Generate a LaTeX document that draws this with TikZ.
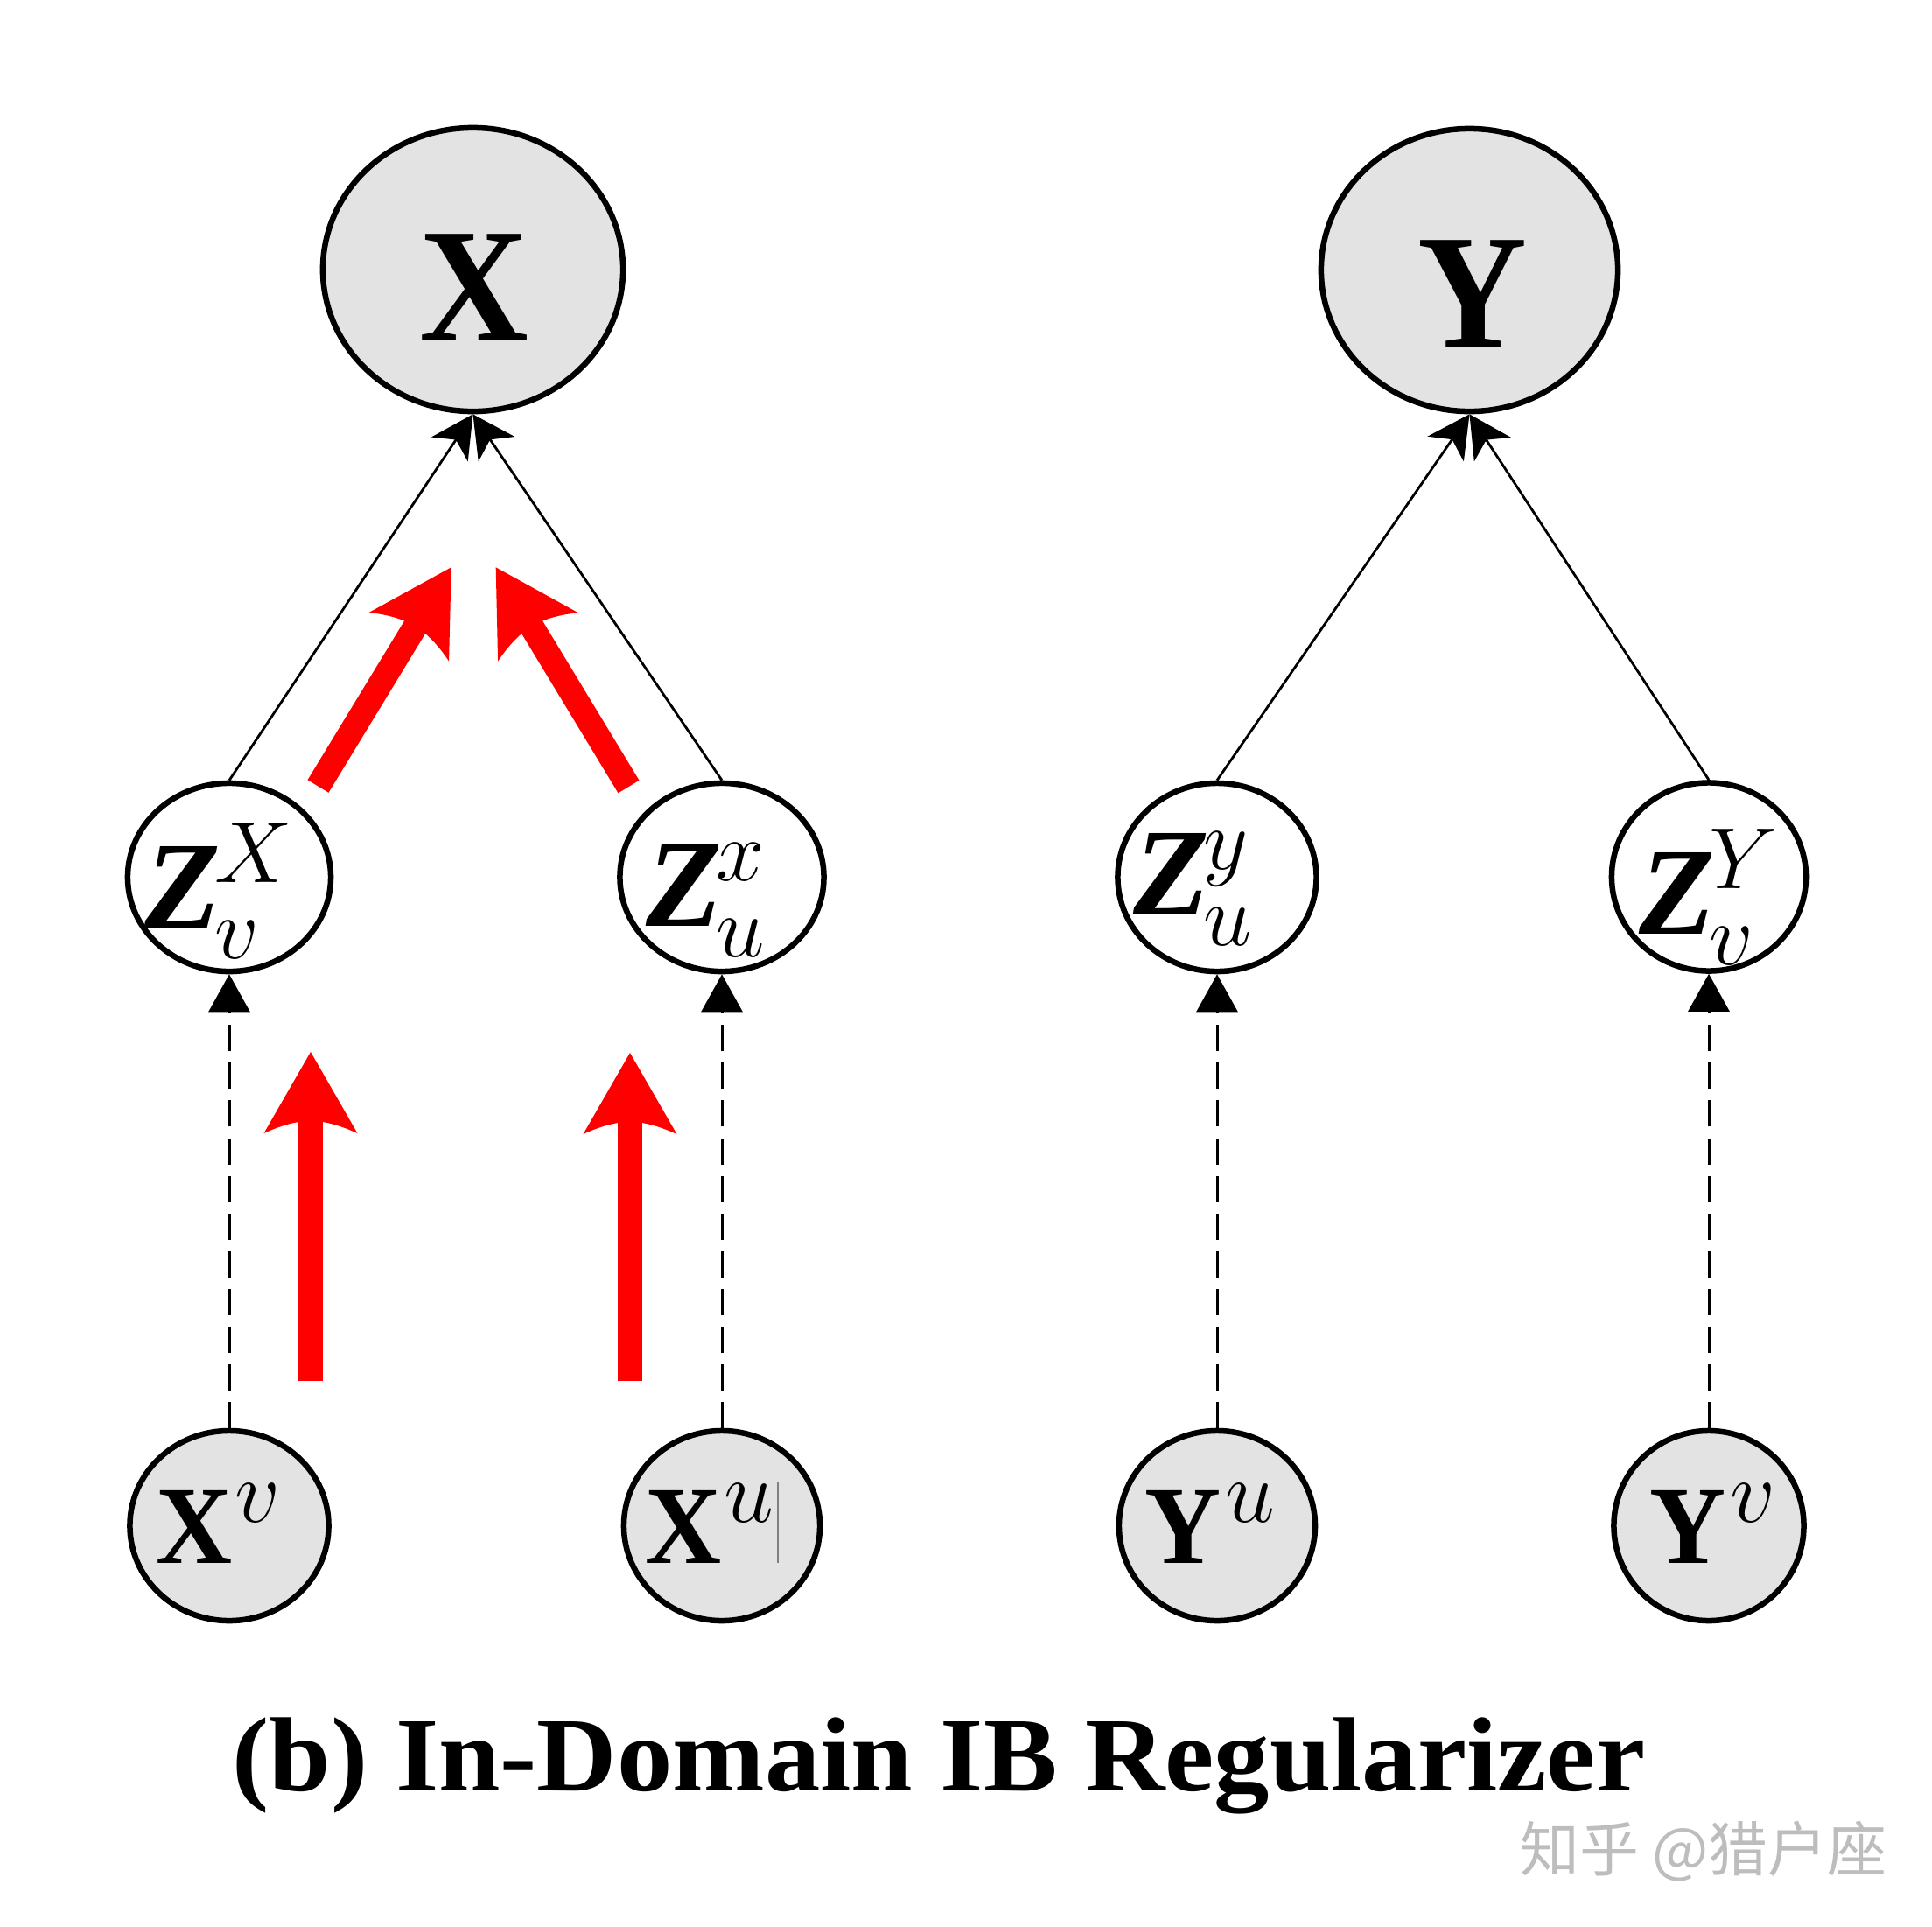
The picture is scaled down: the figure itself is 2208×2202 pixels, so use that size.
\RequirePackage{fix-cm}
\documentclass[tikz,border=0pt]{standalone}
\usepackage{amsmath}
\usepackage{fontspec}
\setmainfont{Liberation Serif}
\newfontfamily\cjk{Noto Sans CJK SC}
\usepackage{graphicx}
\usetikzlibrary{shapes.geometric,arrows.meta,calc}
\definecolor{nodegray}{HTML}{E3E3E3}
\definecolor{wmgray}{HTML}{BDBDBD}
\tikzset{
  bignode/.style={ellipse, draw, line width=0.065cm, fill=nodegray, minimum width=3.43cm, minimum height=3.24cm, inner sep=0pt},
  znode/.style={ellipse, draw, line width=0.065cm, fill=white, minimum width=2.30cm, minimum height=2.15cm, inner sep=0pt},
  obsnode/.style={ellipse, draw, line width=0.065cm, fill=nodegray, minimum width=2.24cm, minimum height=2.17cm, inner sep=0pt},
  biglabel/.style={anchor=base, inner sep=0pt, font=\fontsize{52.9pt}{55pt}\selectfont\bfseries},
  zlabel/.style={anchor=base west, inner sep=0pt, font=\fontsize{40.4pt}{42pt}\selectfont},
  obslabel/.style={anchor=base west, inner sep=0pt, font=\fontsize{36.1pt}{38pt}\selectfont\bfseries},
  toparrow/.style={line width=0.028cm, -{Stealth[length=0.48cm, width=0.50cm, inset=0.13cm]}},
  dasharrow/.style={line width=0.03cm, dash pattern=on 0.30cm off 0.13cm, -{Triangle[length=0.43cm, width=0.47cm]}},
  redshaft/.style={draw=red, line width=0.28cm},
  redhead/.style={fill=red, draw=none},
}
\newcommand{\zlab}[3]{{\bfseries\itshape Z}\kern-2pt$^{#2}_{#3}$}
\newcommand{\olab}[3]{\scalebox{0.95}[1]{#1}\kern#3\raisebox{13.2pt}{\fontsize{29pt}{30pt}\selectfont$#2$}}
\newcommand{\redarrow}[3]{%
  \coordinate (#1S) at #2;
  \coordinate (#1T) at #3;
  \coordinate (#1b) at ($(#1T)!0.93cm!(#1S)$);
  \coordinate (#1j) at ($(#1T)!0.80cm!(#1S)$);
  \coordinate (#1k) at ($(#1T)!0.78cm!(#1S)$);
  \coordinate (#1a1) at ($(#1T)!0.863cm!(#1S)$);
  \coordinate (#1a2) at ($(#1T)!0.82cm!(#1S)$);
  \coordinate (#1w1) at ($(#1b)!0.535cm!90:(#1T)$);
  \coordinate (#1w2) at ($(#1b)!0.535cm!-90:(#1T)$);
  \coordinate (#1j1) at ($(#1j)!0.14cm!90:(#1T)$);
  \coordinate (#1j2) at ($(#1j)!0.14cm!-90:(#1T)$);
  \coordinate (#1p1) at ($(#1a1)!0.392cm!90:(#1T)$);
  \coordinate (#1q1) at ($(#1a2)!0.26cm!90:(#1T)$);
  \coordinate (#1p2) at ($(#1a1)!0.392cm!-90:(#1T)$);
  \coordinate (#1q2) at ($(#1a2)!0.26cm!-90:(#1T)$);
  \draw[redshaft] (#1S) -- (#1k);
  \fill[redhead] (#1T) -- (#1w1) .. controls (#1p1) and (#1q1) .. (#1j1) -- (#1j2) .. controls (#1q2) and (#1p2) .. (#1w2) -- cycle;
}
\begin{document}
\begin{tikzpicture}[x=0.01cm, y=-0.01cm]
\useasboundingbox[fill=white] (0,0) rectangle (2208,2202);

% top nodes
\node[bignode] (X) at (540.5,308) {};
\node[bignode, minimum width=3.39cm, minimum height=3.23cm] (Y) at (1679.5,308.5) {};
\node[biglabel] (Xlab) at (542,389) {\scalebox{0.93}[1]{X}};
\node[biglabel] (Ylab) at (1683,396) {\scalebox{0.93}[1]{Y}};

% latent nodes
\node[znode, minimum width=2.32cm] (Zvx) at (262,1002.5) {};
\node[znode, minimum width=2.33cm] (Zux) at (825,1002.5) {};
\node[znode, minimum width=2.27cm] (Zuy) at (1391,1002.5) {};
\node[znode, minimum width=2.22cm] (Zvy) at (1953,1002) {};
\node[zlabel] (Zvxlab) at (165,1060) {\zlab{Z}{X}{v}};
\node[zlabel] (Zuxlab) at (738,1058) {\zlab{Z}{x}{u}};
\node[zlabel] (Zuylab) at (1295,1045) {\zlab{Z}{y}{u}};
\node[zlabel] (Zvylab) at (1873,1067) {\zlab{Z}{Y}{v}};

% observed nodes
\node[obsnode, minimum width=2.27cm] (Xv) at (262,1743.5) {};
\node[obsnode] (Xu) at (825,1743.5) {};
\node[obsnode] (Yu) at (1391,1743.5) {};
\node[obsnode, minimum width=2.17cm] (Yv) at (1953,1743.5) {};
\node[obslabel] (Xvlab) at (178,1786) {\olab{X}{v}{0.8pt}};
\node[obslabel] (Xulab) at (737,1786) {\olab{X}{u}{0.8pt}};
\node[obslabel] (Yulab) at (1308,1786) {\olab{Y}{u}{1.3pt}};
\node[obslabel] (Yvlab) at (1885,1786) {\olab{Y}{v}{1.3pt}};

% cursor artefact in X^u
\draw[gray, line width=0.012cm] (889,1693) -- (889,1786);

% solid connectors
\draw[toparrow] (Zvx.north) -- (X.south);
\draw[toparrow] (Zux.north) -- (X.south);
\draw[toparrow] (Zuy.north) -- (Y.south);
\draw[toparrow] (Zvy.north) -- (Y.south);

% dashed connectors
\draw[dasharrow] (Xv.north) -- (Zvx.south);
\draw[dasharrow] (Xu.north) -- (Zux.south);
\draw[dasharrow] (Yu.north) -- (Zuy.south);
\draw[dasharrow] (Yv.north) -- (Zvy.south);

% red arrows
\redarrow{ra}{(363.5,898.5)}{(515.7,648.3)}
\redarrow{rb}{(718.5,899)}{(566.7,648.3)}
\redarrow{rc}{(355,1578)}{(355,1202)}
\redarrow{rd}{(720,1578)}{(720,1203)}

% caption
\node[anchor=base, inner sep=0pt, font=\fontsize{34.3pt}{36pt}\selectfont\bfseries] (cap) at (1073,2046)
  {\scalebox{1.05}[1]{(b) In-Domain IB Regularizer}};

% watermark
\node[inner sep=0pt, text=wmgray, font=\cjk\fontsize{19.3pt}{21pt}\selectfont] (wm) at (1947,2116) {知乎 @猎户座};
\end{tikzpicture}
\end{document}
